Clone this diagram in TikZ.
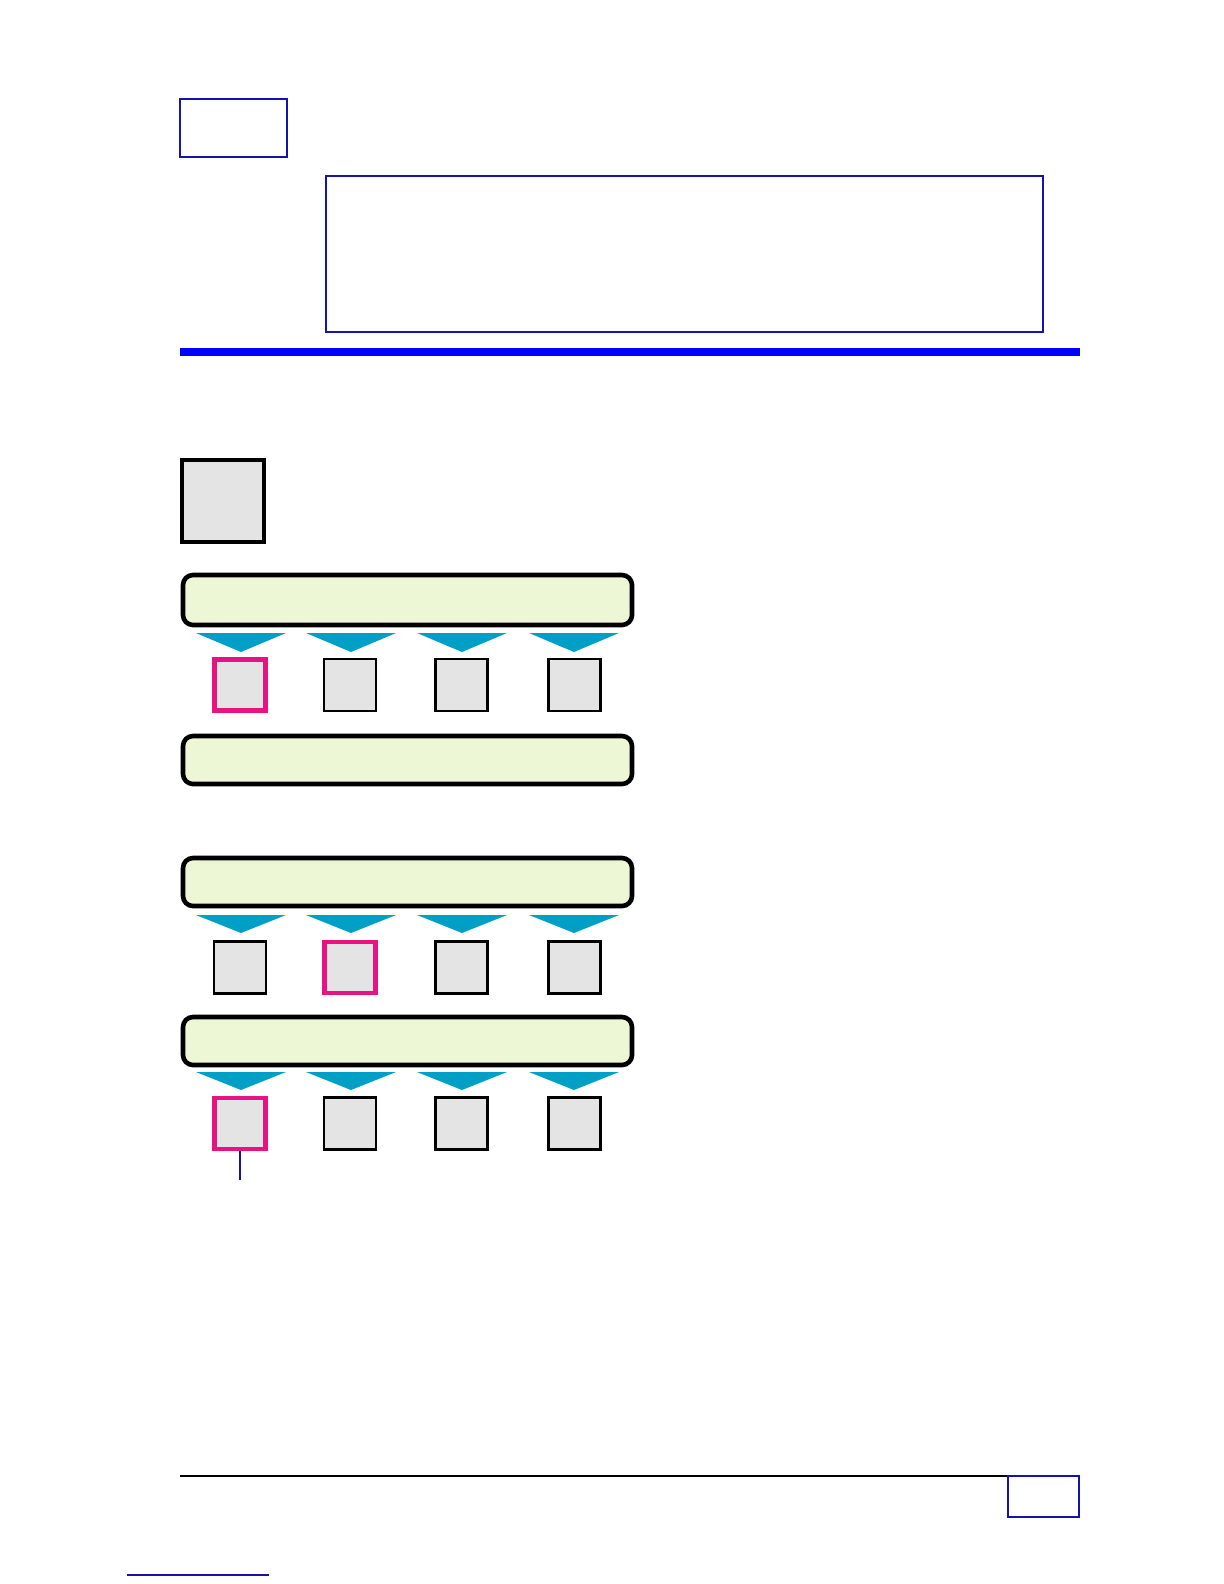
\documentclass[tikz,border=0pt]{standalone}
\definecolor{frameblue}{RGB}{20,20,170}
\definecolor{barblue}{RGB}{0,0,255}
\definecolor{boxgray}{RGB}{228,228,228}
\definecolor{barfill}{RGB}{238,247,213}
\definecolor{tricyan}{RGB}{0,160,198}
\definecolor{pinkedge}{RGB}{232,18,128}
\begin{document}
\begin{tikzpicture}[x=0.5pt,y=-0.5pt,
  frame/.style={draw=frameblue,line width=1pt},
  bigsq/.style={draw=black,fill=boxgray,line width=2.2pt},
  barbox/.style={draw=black,fill=barfill,line width=2.3pt,rounded corners=5pt},
  smallsq/.style={draw=black,fill=boxgray,line width=1.4pt,minimum width=26pt,minimum height=26pt,inner sep=0pt},
  picksq/.style={draw=pinkedge,fill=boxgray,line width=2.4pt,minimum width=25.5pt,minimum height=25.5pt,inner sep=0pt},
  tri/.style={fill=tricyan}]
\useasboundingbox (0,0) rectangle (1224,1584);
% header
\node[frame,inner sep=0pt,minimum width=53.5pt,minimum height=29pt] (tag) at (233.5,128) {};
\node[frame,inner sep=0pt,minimum width=358.5pt,minimum height=78pt] (panel) at (684,254) {};
\fill[barblue] (180,348) rectangle (1080,356);
% big square
\node[bigsq,inner sep=0pt,minimum width=41pt,minimum height=41pt] (big) at (223,501) {};
% bars
\node[barbox,inner sep=0pt,minimum width=224.5pt,minimum height=25pt] (bar1) at (407.5,600) {};
\node[barbox,inner sep=0pt,minimum width=224.5pt,minimum height=24pt] (bar2) at (407.5,760) {};
\node[barbox,inner sep=0pt,minimum width=224.5pt,minimum height=24pt] (bar3) at (407.5,882) {};
\node[barbox,inner sep=0pt,minimum width=224.5pt,minimum height=24pt] (bar4) at (407.5,1041) {};
% triangles
\foreach \cx in {241,351,462,574}{
  \fill[tri] (\cx-45,633) -- (\cx+45,633) -- (\cx,652) -- cycle;
  \fill[tri] (\cx-45,915) -- (\cx+45,915) -- (\cx,933) -- cycle;
  \fill[tri] (\cx-45,1072) -- (\cx+45,1072) -- (\cx,1090) -- cycle;
}
% row 1
\node[picksq] (a1) at (240,685) {};
\node[smallsq] (a2) at (350,685) {};
\node[smallsq] (a3) at (461.5,685) {};
\node[smallsq] (a4) at (574.5,685) {};
% row 2
\node[smallsq] (b1) at (240,967.5) {};
\node[picksq] (b2) at (350,967.5) {};
\node[smallsq] (b3) at (461.5,967.5) {};
\node[smallsq] (b4) at (574.5,967.5) {};
% row 3
\node[picksq] (c1) at (240,1123.5) {};
\node[smallsq] (c2) at (350,1123.5) {};
\node[smallsq] (c3) at (461.5,1123.5) {};
\node[smallsq] (c4) at (574.5,1123.5) {};
\coordinate (lead) at (240,1180);
\draw[frameblue,line width=0.8pt] (c1.south) -- (lead);
% footer
\draw[black,line width=0.7pt] (180,1476) -- (1080,1476);
\node[frame,inner sep=0pt,minimum width=35.5pt,minimum height=20.5pt] (pg) at (1043.5,1496.5) {};
\draw[frameblue,line width=1pt] (127,1575) -- (269,1575);
\end{tikzpicture}
\end{document}
